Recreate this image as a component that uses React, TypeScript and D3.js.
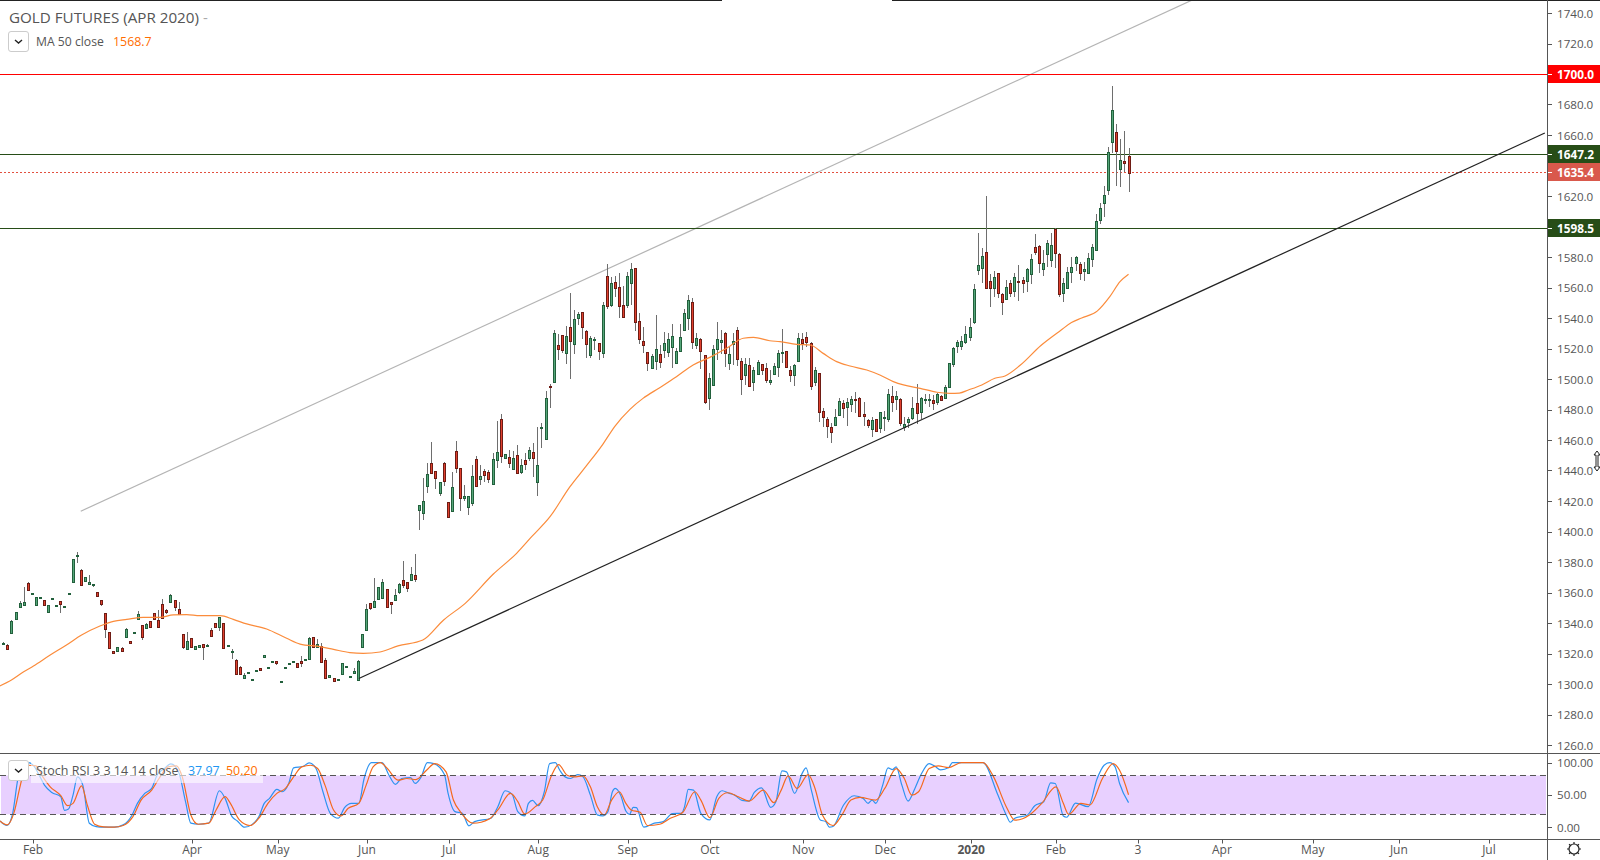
import React from "react";
import * as d3 from "d3";

// ---- candles (one entry per trading day) ----
const opens = [
1327,1325.4,1333.7,1342.9,1350.7,1352,1366,1359.3,1351.8,1356.6,
1354.9,1347.4,1356,1351.4,1354.2,1350.8,1359.3,1367.1,1384.2,1374.5,
1367.8,1365.8,1365.2,1360.1,1354.9,1346.3,1333.9,1321.4,1321.9,1323.4,
1331,1328,1333.7,1342.4,1338.5,1336.5,1341.1,1346.3,1341.8,1352.3,
1348.5,1354,1354.9,1349,1332.6,1322.7,1330,1322.7,1324,1326,
1325.4,1335.2,1339.8,1337.2,1339.8,1325.2,1321.4,1315.5,1310.9,1303.7,
1307.5,1302.9,1308.8,1310.3,1317.5,1310.7,1314.7,1314.9,1301.8,1310.7,
1313.4,1314.7,1313.6,1315.1,1315.5,1316.2,1330.6,1324,1324.7,1315.5,
1304.4,1303.7,1302.9,1306.3,1310.9,1304.4,1307,1302.6,1324.5,1335.2,
1352.9,1350.3,1356,1356.6,1362,1353.5,1355.1,1360.3,1368,1366.6,
1368.2,1371.2,1414.3,1412.3,1430,1444.7,1439.4,1425.4,1444.7,1419.1,
1413.2,1452.5,1441.4,1422,1416.3,1418.4,1447.3,1434.6,1439.7,1438.8,
1430.9,1447.1,1473.8,1448.4,1448.6,1441.2,1449.9,1439,1446.6,1448.4,
1451.9,1432.7,1468.1,1460.9,1495.4,1497.8,1522.1,1528.6,1517.3,1533.9,
1522.7,1540.2,1543.7,1531.3,1516,1525.8,1523.4,1517.3,1567.3,1548.7,
1563.4,1560.1,1548.3,1548.7,1562.7,1572.6,1537.8,1524.7,1517.5,1507,
1512,1516.2,1519.2,1517.5,1521.2,1510.3,1518.6,1532.4,1539.8,1550.3,
1522.3,1526.2,1515.5,1487.3,1496,1519.5,1524.1,1530,1510.7,1523.2,
1531.9,1511.6,1502.8,1509,1498.3,1503.5,1509.6,1507,1498.2,1503.5,
1507.7,1517.3,1518.1,1505.7,1502.8,1512,1526,1527.3,1523.4,1498.3,
1503.7,1478.8,1473.6,1468.3,1470,1476.6,1484,1481.9,1483.4,1486.7,
1487.3,1476.8,1472.9,1467,1473.6,1467.7,1474.2,1473.6,1488.6,1486.7,
1486.7,1468.7,1471.6,1474.2,1484,1478.1,1486,1486,1486,1485.1,
1488.6,1487.3,1494.5,1509.8,1521.9,1521.9,1524,1527.3,1537.6,1571.7,
1573,1583,1564,1559.6,1569.3,1555.5,1552.6,1562.7,1557.9,1564.2,
1564.9,1564.4,1568.6,1586.3,1587,1571.9,1582.1,1578.2,1598.3,1581.9,
1556.1,1559.9,1570.3,1575.8,1575.2,1570.8,1569.7,1578.9,1584.8,1604.4,
1615.2,1623.7,1655.6,1661.7,1637.5,1642.9,1646,
];
const highs = [
1327.5,1326,1342,1347.5,1354.4,1363.8,1366.9,1359.7,1357,1357,
1355,1352,1356.6,1351.8,1354.5,1351.2,1359.7,1382,1386.4,1375.2,
1370.3,1371.5,1365.6,1360.4,1355,1346.5,1334,1321.6,1324.2,1324,
1336.5,1328.2,1334.1,1348.1,1338.8,1339.8,1341.4,1346.5,1348.5,1355.7,
1349.4,1358.8,1355,1353.8,1332.8,1334.1,1330.2,1324.9,1325.6,1326.2,
1326,1336.5,1340,1344,1340,1325.6,1322.7,1316.2,1311.5,1307.4,
1307.9,1303.3,1309.2,1310.5,1319,1311.1,1315.1,1315,1302.2,1311.1,
1313.8,1315.1,1313.8,1318.4,1316.6,1330.6,1330.8,1329.5,1327,1316.8,
1305.9,1303.9,1303.3,1313.8,1311.8,1305.5,1310.3,1315.5,1332.8,1352.5,
1353,1369.3,1363.5,1368.8,1362.3,1353.7,1362.3,1366,1380.9,1366.8,
1376.7,1385.2,1417.6,1435.1,1445.1,1458.5,1439.6,1432.5,1445.3,1419.3,
1439,1459.3,1441.6,1430.5,1423.2,1443.6,1449.5,1443.6,1440.8,1440.3,
1451.5,1472.5,1477,1451,1453.2,1452.5,1456.7,1447.7,1451.5,1455.2,
1457.8,1468.3,1470.9,1492.1,1496.9,1532.1,1529.3,1529,1535,1556.4,
1545.3,1543.7,1544,1532,1528,1527.3,1523.8,1550.7,1575.4,1567.1,
1567.8,1569.3,1561,1570.4,1575.9,1572.8,1543,1533.9,1518,1516.4,
1542,1522.3,1530.6,1530,1536,1520.5,1536,1545.9,1555.1,1552.9,
1530,1527,1515.7,1504.2,1522.3,1537.2,1532.1,1531,1521.2,1530,
1533.9,1514,1513.6,1513.6,1508,1512.5,1510,1510.3,1505.9,1510.3,
1519,1532.8,1518.5,1508.5,1510,1530,1530,1530.6,1524,1508.1,
1504,1480.8,1475.3,1470.9,1480.5,1487.3,1486,1487.3,1488.8,1491.3,
1488,1485.1,1474,1475.3,1474,1478.5,1479,1493.2,1495.4,1492.1,
1487.3,1475.3,1475.3,1488,1496.5,1488,1490.2,1490.2,1489.5,1491,
1489.5,1496.1,1510.8,1520.7,1525.6,1528,1534.8,1540.2,1562.3,1595.5,
1586,1620,1568.8,1570.8,1569.6,1556.3,1564.9,1564.9,1569.3,1574.7,
1567,1572.5,1581.7,1595,1588,1584.6,1590.9,1595.5,1598.8,1582.4,
1566,1573.6,1580,1580.6,1577,1576.5,1582.4,1588.5,1608.2,1615.6,
1626.5,1652.3,1692.1,1667.2,1657.3,1662.6,1651.2,
];
const lows = [
1326.8,1322,1333,1342.5,1350.3,1351.2,1361.5,1359.3,1351.4,1356.6,
1352,1346.8,1355.3,1351.4,1346.8,1350.8,1359.3,1366,1379.6,1364.5,
1367.5,1365.5,1363.4,1357.7,1351.4,1330.4,1322.7,1320.4,1321.5,1321.7,
1330.7,1327,1333.7,1342.2,1329.1,1336.3,1337.4,1342,1337.4,1343,
1345.9,1353.8,1347.9,1345.5,1323.2,1322.5,1323.8,1322.5,1323.8,1316,
1325.2,1330.6,1337.4,1335,1323.2,1325.2,1316.6,1306.6,1306.6,1303.5,
1307.5,1302.9,1308.8,1308.8,1317.3,1310.7,1314.7,1312.7,1301.8,1310.7,
1313.4,1314.7,1310.7,1310.9,1315.3,1316,1323.4,1323.8,1314,1303.5,
1304.2,1302,1302.9,1306.1,1310.3,1304.2,1306.8,1302.4,1324,1335,
1348.3,1350,1355.8,1356.4,1350.5,1346.1,1354.8,1359.2,1363.1,1360.3,
1367.8,1366.9,1401,1407.7,1425.2,1437.9,1428.1,1423.3,1430,1409.3,
1413,1438.6,1413.6,1420,1410.8,1416.7,1429.4,1430.5,1432.7,1431.6,
1430.7,1441.8,1445.1,1448,1441.8,1441,1438.1,1437.9,1440.3,1446.4,
1436,1423.3,1454.5,1460.7,1481.2,1497.6,1512.5,1516.8,1510,1500,
1516.4,1535.4,1526,1514,1514,1519,1512.5,1514,1546.1,1547.4,
1554,1539.8,1539.8,1546.3,1548.5,1531.7,1522.9,1516.8,1505.2,1506.8,
1505.9,1507.4,1513.6,1514.2,1507.4,1510,1518.2,1531.5,1532.1,1519.9,
1519.7,1506.8,1483.6,1479.7,1495.6,1512.7,1516.4,1508.1,1505.9,1509.2,
1508.7,1489.7,1496,1495,1492.4,1502.9,1502.6,1497.6,1496.3,1503,
1501.5,1510.3,1507.7,1498.2,1495.6,1511.5,1519,1521,1493,1495.6,
1472,1468.8,1461.1,1458,1469.6,1476,1474.2,1469.2,1478.6,1477.5,
1475.3,1469.4,1467.7,1462.2,1465,1464.8,1466,1472,1478.6,1479.7,
1469.4,1466,1467.7,1473.1,1470.3,1473.8,1483.4,1481.9,1479.7,1483,
1485.5,1487,1494,1507.7,1517.3,1519,1523,1525.2,1536.1,1568.2,
1562.7,1559.4,1547.4,1554,1552.9,1541.9,1551.5,1554,1554,1551.3,
1556.6,1557.2,1562,1581.3,1569.7,1567.5,1573.6,1573.6,1572.5,1553.5,
1550.7,1559,1563.1,1571,1564.9,1564.2,1569.3,1573.6,1584.5,1601.6,
1606.4,1620.8,1648,1626.5,1626.1,1636,1622.8,
];
const closes = [
1327.2,1323.2,1341.3,1347,1352.9,1353.6,1361.9,1359.5,1356.8,1356.8,
1352,1351.6,1356.2,1351.6,1352.7,1351,1359.5,1381.8,1384.6,1364.7,
1370,1366.9,1365.4,1357.9,1352.7,1335.9,1323.8,1320.6,1324,1321.9,
1335.9,1327.1,1333.9,1345.7,1331,1339.1,1337.6,1342.4,1337.6,1343.1,
1347.4,1358.2,1350.7,1345.7,1324.5,1328,1324,1324.7,1325.4,1324,
1325.6,1331.7,1337.6,1343.7,1323.4,1325.4,1321.6,1306.8,1306.8,1305.7,
1307.7,1303.1,1309,1309,1318.8,1310.9,1314.9,1313.6,1302,1310.9,
1313.6,1314.9,1310.9,1314,1316.4,1330,1324.5,1326,1314.2,1303.7,
1305.7,1302.2,1303.1,1313.6,1311.6,1305.3,1308.5,1314.9,1332.6,1349,
1349.6,1354.2,1363.3,1366.6,1350.7,1352.7,1358.1,1365.6,1365.1,1363.1,
1372.1,1369,1417.4,1419.8,1437.5,1438.6,1435.3,1432.2,1433.3,1409.7,
1428.9,1441.8,1422.2,1423,1423,1436.2,1430,1436.4,1437.3,1434.6,
1447.3,1451.9,1449.7,1450.8,1445.1,1448,1438.6,1443.4,1444.5,1453.2,
1448.4,1443.4,1468.5,1487.3,1495,1530,1519.9,1519.2,1528,1525.1,
1539.1,1542.4,1534.3,1522.7,1526.7,1526.2,1518.6,1548.3,1548.1,1562.7,
1559.9,1548.1,1540.9,1567.3,1571.9,1537.2,1526.4,1522.5,1510.7,1514.9,
1519.5,1511.4,1523.4,1526,1528,1518.1,1527.3,1543.1,1551.6,1524,
1526.7,1518.6,1485.1,1500.4,1519.5,1526,1525.4,1516.8,1516.2,1524.7,
1512.9,1500.2,1509.6,1495.6,1505.7,1510.9,1506.1,1499.6,1499.1,1508.3,
1516.8,1517.7,1508.1,1502.4,1509,1526.7,1523.4,1524,1495.6,1505.7,
1478.6,1474.9,1469.4,1465.5,1475.3,1485.4,1480.8,1484.7,1486.7,1486,
1476,1476,1469.6,1472.9,1465.7,1478.1,1474.9,1490,1485.1,1488.6,
1470.9,1470.3,1473.6,1480.8,1477.5,1487.3,1486.7,1486.7,1484,1490.2,
1486.2,1494.5,1510.3,1520.1,1524,1524.7,1529.3,1533.9,1558.8,1574.5,
1580.4,1559.6,1559.6,1566.6,1556.6,1550.7,1560.1,1556.6,1566.6,1563.6,
1563.1,1571.9,1578.4,1583.5,1575.8,1575.8,1589,1587.6,1582.8,1555.5,
1562.7,1569.9,1573.2,1579.7,1569.7,1571.9,1579.1,1586.3,1603.4,1611.9,
1620.4,1648.6,1676.1,1649.7,1643.4,1641.8,1635.4,
];

// ---- MA 50 (bar position, price) ----
const maBars = [-1,2,5,7.4,11.5,15.5,19.2,23.7,27,30.3,34.3,38.4,41.7,45,48.2,53.2,56.4,59.7,64.6,69.5,72.8,77.7,81,85,88.3,92.4,96.8,102.9,108,113.3,120.2,125.9,129.6,134.1,139,143,147,150,153.7,156.9,161,165.1,169.2,173.3,177.4,181.5,184,188,190.5,194.6,197.9,201.1,204.4,207.7,211.8,215,218.3,220.8,224.9,229,232.2,234.5,236.7,240,243.2,245.7,249.4,254.5,259.4,262,264.5,268.3,271.4,273.9,276];
const maPrices = [1298.5,1302.6,1308,1311.8,1319,1325.6,1332.1,1338,1341.1,1342.4,1343.7,1343.7,1345.3,1345.5,1344.8,1344.8,1342.4,1339.4,1336.1,1330,1326.2,1324.5,1322.7,1320.6,1320.1,1321,1325,1328.8,1342,1352.9,1372.1,1385.7,1396.6,1409.7,1429.4,1443,1457,1469,1480.1,1487.3,1494.3,1501.5,1509.2,1514.2,1520.1,1526.7,1527.3,1525.1,1524.5,1522.7,1522.3,1516.8,1511.4,1508.5,1505.9,1502.6,1498.3,1496.1,1493.9,1491.3,1490.6,1490.8,1492.8,1496.1,1500.5,1502,1509,1522,1532,1537,1540,1544.5,1554,1563.8,1568.7];

// ---- Stoch RSI %K (blue) ----
const kBars = [-0.8,0.9,2.3,3.6,4.9,6.2,7.5,8.8,10.1,11.9,14.1,15,16,17.1,18.2,19.5,21.1,22.8,24.6,27.2,29.4,31.6,32.9,34.7,36.4,37.7,39.5,41.1,43,44.7,46,47.8,50.4,53,54.4,56.1,57.4,59.2,60.9,62.7,64,65.3,67.1,68.4,70,71.2,73.6,75,76.7,78.4,80.2,82.2,83.7,85.4,87.2,88.5,90.3,92.9,94.6,96.2,97.7,99.9,101,102.5,104,105.6,108.2,109.1,110.8,112.6,114.2,115.6,119.6,121.3,123.1,124.8,126.2,127.9,128.8,129.8,131.2,132.7,134,135.4,136.5,137.8,139.1,140.9,142.2,144,145.7,147,148.3,149.4,150.1,151.4,152.7,153.6,154.5,155.3,157.1,159.7,161.9,164.1,166.3,167.1,168,169.3,171.1,173.3,175,176.3,178.1,179.4,181.2,182.9,184.2,186,188.2,189.5,191,192.1,194.1,196,196.9,198.2,200.4,201.7,202.6,203.5,206.1,208.7,210.9,212.1,213.1,214,215.7,217,218.1,219,220.4,221.9,223.6,225.1,227.1,228.4,229.9,231.9,232.8,240.3,243.8,246,247,248.1,251.2,253,255.2,256.9,258,260,260.8,263,266.1,268.3,270,271.4,272.7,273.8,276];
const kValues = [9.7,2.6,21.5,75.4,96.9,100,94.9,80.5,65.1,53.8,47.2,26.2,28.2,49.7,77.9,65.1,6.2,1,0,0,3.6,19,36.9,52.3,60,80.5,90.8,98,85.6,39.5,6.2,4.6,6.2,56.4,44.6,16.4,9.7,0,3.6,16.4,36.9,44.6,58.5,54.9,67.7,91.8,94.4,99.5,90.8,54.9,21.5,13.9,30.2,36.9,36.9,75.4,100,100,80.5,66.2,75.4,76.9,67.7,77.9,100,98.5,81.5,52.3,24.1,21.5,2,8.7,13.9,31.8,56.4,50.8,24.1,17.4,36.9,41.5,33.3,54.9,98.5,100,88.2,77.9,75.4,81.5,77.9,49.7,19,17.4,24.1,54.9,60,49.7,25.1,20,30.8,30.2,0,6.2,8.7,21,21.5,31.8,58.5,57.4,21.5,11.3,47.2,56.4,52.3,49.7,41.5,40.5,53.8,61,30.8,39.5,87.2,85.6,52.3,84.1,91.8,57.4,11.3,8.7,0,1,34.4,48.7,44.6,36.9,42,36.9,65.1,91.8,89.2,93.3,65.1,40.5,60,81.5,98.5,94.9,88.7,92.3,100,100,52.3,19,7.7,13.9,19,33.3,39.5,68.7,67.7,17.4,15.4,37.4,31.8,75.4,95.9,100,93.3,67.7,37.97];

// ---- Stoch RSI %D (orange) ----
const dBars = [-0.8,0.9,2.7,4,4.9,6.2,8,9.7,11.5,14.1,15.8,17.1,19.2,20.6,22.4,24.6,27.2,29.4,31.8,33.8,36.4,38.2,40.4,42.5,43.9,46,47.8,50.4,52.2,54.4,55.7,57.9,60.5,62.7,64.9,67.1,69.2,71.2,73.2,75.4,77.1,78.9,81,82.8,84.6,87.2,89,90.7,92.5,94.2,96.8,99,101.2,103.8,105.8,108.6,110.4,112.2,115.2,119.2,121.3,124.4,126.2,127.9,130.5,132.3,134.5,136.2,138.3,140,142.2,144,145.7,147.4,149.2,151.1,152.7,154,156.2,158,161,163.6,166.7,169.6,171.1,173.3,175.5,177.7,180.3,182.9,186.4,189,190.8,192.5,194.7,197.4,199.1,200.9,203.5,205.7,207.9,210.1,214,216.2,219,221,222.8,224.5,227.1,229.3,231.9,235,240.3,242.9,246,248.1,251.7,254.7,258.2,260,261.3,264.3,266.5,269.6,272.2,273.8,276];
const dValues = [9.7,3.6,24.1,60,83.1,95.9,94.9,77.9,62.5,48.7,33.3,36.9,64.1,34.4,4.6,0.5,0,2.6,16.4,42,57.4,75.4,93.3,94.9,77.9,19,4.6,6.2,26.7,47.2,36.9,11.3,2.6,13.9,36.9,52.3,60,77.9,93.3,95.9,90.8,65.1,26.7,17.4,29.2,36.9,65.1,93.3,100,90.8,72.8,75.4,73.8,88.2,98.5,85.6,42,23.1,6.2,12.8,26.7,52.3,39.5,20.5,31.8,42,80.5,96.9,80.5,77.9,79.5,62.5,31.8,19,42,54.9,36.9,26.7,23.1,2.6,4.6,13.9,23.1,54.9,42,14.9,44.6,53.3,47.2,40.5,57.4,37.9,57.4,79.5,60,81.5,60,19,2.6,19,42,46.2,42,60,90.8,75.4,49.7,54.9,90.8,94.9,92.3,100,100,77.9,31.8,10.8,19,36.9,62.5,36.9,20,36.9,34.4,75.4,98.5,88.2,50.2];

// ---- axes ----
const priceTicks = [1260,1280,1300,1320,1340,1360,1380,1400,1420,1440,1460,1480,1500,1520,1540,1560,1580,1620,1660,1680,1720,1740];
const stochTicks = [100,50,0];
const timeLabels = ["Feb","Apr","May","Jun","Jul","Aug","Sep","Oct","Nov","Dec","2020","Feb","3","Apr","May","Jun","Jul"];
const timeBars = [7.3,46.3,67.3,89.2,109.3,131.2,153.2,173.3,196.2,216.3,237.4,258.2,278.3,298.9,321.2,342.3,364.4];

// ---- levels & drawn lines ----
const levelPrices = [1700,1647.2,1635.4,1598.5];
const levelColors = ["#ff0000","#274d17","#e2503f","#274d17"];
const labelColors = ["#ff0000","#274d17","#d9594c","#274d17"];
const trendBars = [87.2,378.1];
const trendPrices = [1303.6,1661.3];
const channelBars = [19,291.6];
const channelPrices = [1413.3,1748.5];

const FONT = "'Open Sans', 'Noto Sans', sans-serif";
const W = 1600;
const H = 860;
const AXIS_X = 1547;
const TOP_LINE = 753.5;
const BOTTOM_LINE = 839.5;

export default function App() {
  const x = d3.scaleLinear().domain([0, 276]).range([3.3, 3.3 + 276 * 4.077]);
  const y = d3.scaleLinear().domain([1260, 1700]).range([745, 74]);
  const s = d3.scaleLinear().domain([0, 100]).range([827.2, 762.6]);

  const line = (bars: number[], vals: number[], sc: d3.ScaleLinear<number, number>) =>
    d3.line<number>().x((b) => x(b)).y((_, i) => sc(vals[i]))(bars) || "";
  const smooth = (bars: number[], vals: number[], sc: d3.ScaleLinear<number, number>) =>
    d3.line<number>().curve(d3.curveMonotoneX).x((b) => x(b)).y((_, i) => sc(vals[i]))(bars) || "";

  return (
    <svg
      width={W}
      height={H}
      viewBox={`0 0 ${W} ${H}`}
      style={{ position: "fixed", left: 0, top: 0, background: "#fff" }}
      fontFamily={FONT}
    >
      <defs>
        <clipPath id="main"><rect x={0} y={1} width={AXIS_X} height={TOP_LINE - 1} /></clipPath>
        <clipPath id="sub"><rect x={0} y={TOP_LINE} width={AXIS_X} height={BOTTOM_LINE - TOP_LINE} /></clipPath>
      </defs>

      {/* top edge */}
      <rect x={0} y={0} width={722} height={1} fill="#222" />
      <rect x={892} y={0} width={708} height={1} fill="#222" />

      <g clipPath="url(#main)">
        {/* grey channel line */}
        <path d={line(channelBars, channelPrices, y)} stroke="#b4b4b4" strokeWidth={1.2} fill="none" />
        {/* horizontal levels */}
        {levelPrices.map((p, i) => (
          <line
            key={p}
            x1={0}
            x2={AXIS_X}
            y1={Math.floor(y(p)) + 0.5}
            y2={Math.floor(y(p)) + 0.5}
            stroke={levelColors[i]}
            strokeWidth={1}
            strokeDasharray={i === 2 ? "2 2" : undefined}
          />
        ))}
        {/* candles */}
        {opens.map((o, i) => {
          const c = closes[i];
          const up = c >= o;
          const cx = Math.round(x(i));
          const top = Math.round(y(Math.max(o, c)));
          const bot = Math.round(y(Math.min(o, c)));
          const h = Math.max(2, bot - top + 1);
          const border = up ? "#22603c" : "#6e1c14";
          const fill = up ? "#55a67a" : "#e0402e";
          return (
            <g key={i} shapeRendering="crispEdges">
              <rect
                x={cx}
                y={Math.round(y(highs[i]))}
                width={1}
                height={Math.max(1, Math.round(y(lows[i])) - Math.round(y(highs[i])))}
                fill="#6e6e6e"
              />
              <rect x={cx - 1} y={top} width={3} height={h} fill={border} />
              {h > 2 && <rect x={cx} y={top + 1} width={1} height={h - 2} fill={fill} />}
            </g>
          );
        })}
        {/* MA 50 */}
        <path d={smooth(maBars, maPrices, y)} stroke="#fb8c3c" strokeWidth={1.2} fill="none" />
        {/* black trend line */}
        <path d={line(trendBars, trendPrices, y)} stroke="#222" strokeWidth={1.2} fill="none" />
      </g>

      {/* legend */}
      <text x={9} y={23} fontSize={15.2} fill="#555">GOLD FUTURES (APR 2020)</text>
      <text x={203} y={23} fontSize={15} fill="#aaa">-</text>
      <rect x={8.5} y={31.5} width={20} height={20} rx={2.5} fill="#fff" stroke="#ccc" />
      <path d="M15 40 l3.5 3 l3.5 -3" fill="none" stroke="#222" strokeWidth={1.4} />
      <text x={36} y={46} fontSize={12.2} fill="#555">MA 50 close</text>
      <text x={113} y={46} fontSize={12.4} fill="#ff6d00">1568.7</text>

      {/* stochastic pane */}
      <rect x={1} y={s(80)} width={AXIS_X - 2} height={s(20) - s(80)} fill="#e8d0ff" />
      <g clipPath="url(#sub)">
        <path d={smooth(kBars, kValues, s)} stroke="#2e93f0" strokeWidth={1.2} fill="none" />
        <path d={smooth(dBars, dValues, s)} stroke="#f4691e" strokeWidth={1.2} fill="none" />
      </g>
      {[80, 20].map((v) => (
        <line key={v} x1={0} x2={AXIS_X} y1={Math.floor(s(v)) + 0.5} y2={Math.floor(s(v)) + 0.5} stroke="#555" strokeDasharray="6 4" />
      ))}
      <rect x={31} y={760} width={232} height={23} fill="#fff" opacity={0.6} />
      <rect x={8.5} y={760.5} width={20} height={20} rx={2.5} fill="#fff" stroke="#ccc" />
      <path d="M15 769 l3.5 3 l3.5 -3" fill="none" stroke="#222" strokeWidth={1.4} />
      <text x={36} y={775} fontSize={12.5} fill="#555">Stoch RSI 3 3 14 14 close</text>
      <text x={188} y={775} fontSize={12.4} fill="#2196f3">37.97</text>
      <text x={226} y={775} fontSize={12.4} fill="#ff6d00">50.20</text>

      {/* frame */}
      <rect x={0} y={Math.floor(TOP_LINE)} width={W} height={1} fill="#555" />
      <rect x={0} y={Math.floor(BOTTOM_LINE)} width={W} height={1} fill="#555" />
      <rect x={AXIS_X} y={0} width={1} height={H} fill="#555" />

      {/* price axis */}
      {priceTicks.map((p) => (
        <g key={p}>
          <rect x={AXIS_X + 1} y={Math.round(y(p))} width={4} height={1} fill="#555" />
          <text x={1557} y={y(p) + 4.5} fontSize={11.6} fill="#555">{p.toFixed(1)}</text>
        </g>
      ))}
      {levelPrices.map((p, i) => (
        <g key={p}>
          <rect x={AXIS_X + 1} y={Math.floor(y(p)) - 9} width={W - AXIS_X - 1} height={18} fill={labelColors[i]} />
          <rect x={AXIS_X + 1} y={Math.floor(y(p))} width={4} height={1} fill="#fff" />
          <text x={1557} y={Math.floor(y(p)) + 4.5} fontSize={11.8} fontWeight={700} fill="#fff">{p.toFixed(1)}</text>
        </g>
      ))}
      {stochTicks.map((v) => (
        <g key={v}>
          <rect x={AXIS_X + 1} y={Math.round(s(v))} width={4} height={1} fill="#555" />
          <text x={1557} y={s(v) + 4.5} fontSize={11.6} fill="#555">{v.toFixed(2)}</text>
        </g>
      ))}

      {/* time axis */}
      {timeLabels.map((t, i) => (
        <g key={i}>
          <rect x={Math.round(x(timeBars[i]))} y={BOTTOM_LINE} width={1} height={4} fill="#555" />
          <text
            x={x(timeBars[i])}
            y={854}
            fontSize={12}
            fontWeight={t === "2020" ? 700 : 400}
            textAnchor="middle"
            fill="#555"
          >
            {t}
          </text>
        </g>
      ))}

      {/* settings gear */}
      <g transform="translate(1574,849)" fill="none" stroke="#222" strokeWidth={1.2}>
        <circle r={5} />
        {d3.range(8).map((k) => {
          const a = (k * Math.PI) / 4;
          return <line key={k} x1={5 * Math.cos(a)} y1={5 * Math.sin(a)} x2={7 * Math.cos(a)} y2={7 * Math.sin(a)} />;
        })}
      </g>

      {/* resize cursor */}
      <path
        d="M1597 451 l3 4 h-2 v12 h2 l-3 4 l-3 -4 h2 v-12 h-2 z"
        fill="#fff"
        stroke="#222"
        strokeWidth={1}
      />
    </svg>
  );
}
